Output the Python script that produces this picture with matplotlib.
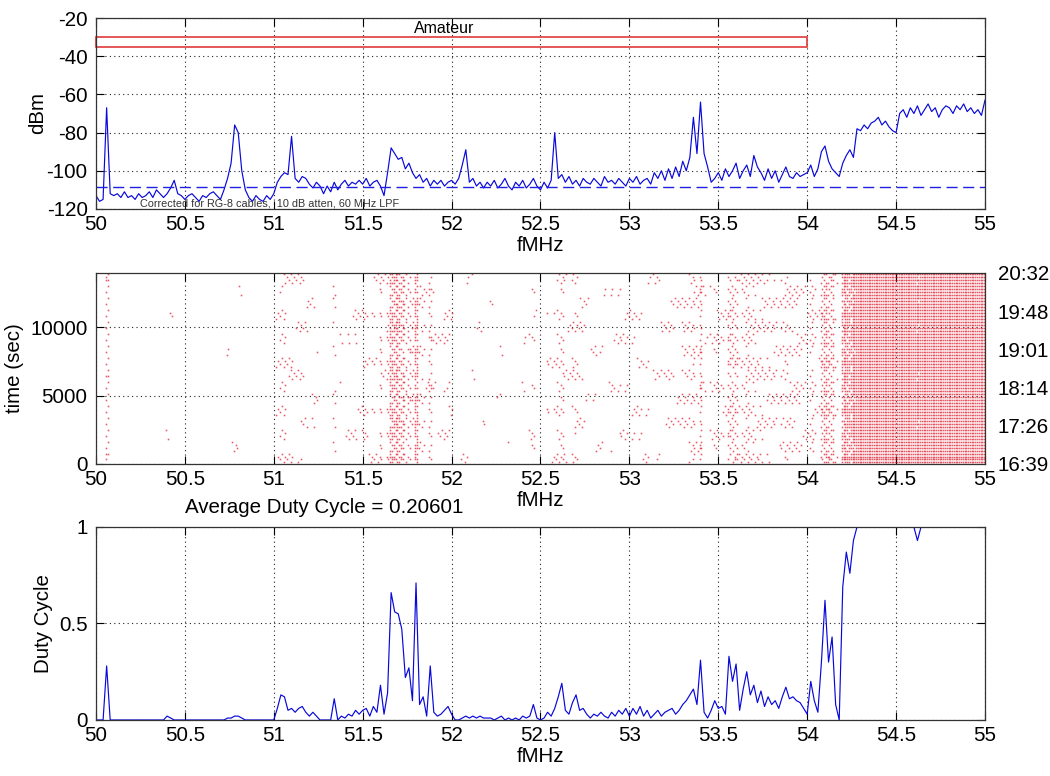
import numpy as np
import matplotlib
matplotlib.use("Agg")
import matplotlib.pyplot as plt
from matplotlib.patches import Rectangle
from matplotlib.ticker import FormatStrFormatter

plt.rcParams['font.family'] = ['Liberation Sans', 'DejaVu Sans']
plt.rcParams['axes.unicode_minus'] = False

# frequency grid, 20 kHz steps from 50 to 55 MHz
F_START, F_STEP = 50.0, 0.02

# peak power per bin (dBm), one row = 0.2 MHz
power_dbm = [
    -113, -116, -115, -67, -112, -113, -112, -114, -111, -114,   # 50.0
    -113, -115, -112, -114, -113, -111, -114, -110, -112, -114,  # 50.2
    -112, -109, -105, -112, -113, -115, -113, -112, -114, -116,  # 50.4
    -113, -114, -112, -111, -113, -115, -110, -104, -96, -76,    # 50.6
    -80, -100, -110, -114, -116, -113, -115, -116, -113, -115,   # 50.8
    -112, -106, -103, -101, -102, -82, -104, -106, -103, -104,   # 51.0
    -107, -109, -106, -108, -112, -108, -111, -106, -110, -107,  # 51.2
    -105, -108, -106, -107, -105, -107, -104, -108, -106, -105,  # 51.4
    -108, -113, -101, -88, -91, -94, -93, -99, -96, -101,        # 51.6
    -104, -102, -106, -104, -108, -105, -107, -105, -108, -106,  # 51.8
    -105, -107, -104, -97, -89, -106, -104, -108, -106, -109,    # 52.0
    -106, -108, -105, -109, -107, -104, -108, -110, -106, -108,  # 52.2
    -105, -109, -107, -104, -108, -110, -106, -109, -105, -80,   # 52.4
    -104, -102, -106, -103, -107, -105, -108, -104, -106, -107,  # 52.6
    -104, -106, -108, -103, -106, -105, -107, -104, -106, -108,  # 52.8
    -104, -106, -103, -107, -105, -104, -107, -101, -104, -100,  # 53.0
    -105, -99, -104, -98, -103, -95, -100, -93, -72, -91,        # 53.2
    -64, -91, -98, -106, -104, -101, -105, -99, -103, -100,      # 53.4
    -96, -104, -100, -97, -103, -92, -98, -101, -105, -99,       # 53.6
    -104, -100, -106, -102, -98, -103, -104, -101, -103, -102,   # 53.8
    -101, -97, -103, -99, -90, -87, -95, -99, -101, -103,        # 54.0
    -96, -92, -89, -93, -78, -79, -76, -78, -75, -74,            # 54.2
    -72, -76, -74, -77, -79, -80, -70, -68, -72, -67,            # 54.4
    -70, -66, -71, -68, -65, -69, -67, -72, -68, -66,            # 54.6
    -67, -70, -66, -68, -65, -69, -67, -70, -68, -71,            # 54.8
    -63,                                                         # 55.0
]

# fraction of sweeps above threshold per bin
duty_cycle = [
    0, 0, 0, 0.28, 0, 0, 0, 0, 0, 0,                             # 50.0
    0, 0, 0, 0, 0, 0, 0, 0, 0, 0,                                # 50.2
    0.02, 0.01, 0, 0, 0, 0, 0, 0, 0, 0,                          # 50.4
    0, 0, 0, 0, 0, 0, 0, 0.01, 0.01, 0.02,                       # 50.6
    0.02, 0.01, 0, 0, 0, 0, 0, 0, 0, 0,                          # 50.8
    0, 0.06, 0.13, 0.12, 0.05, 0.06, 0.04, 0.06, 0.07, 0.04,     # 51.0
    0.02, 0.04, 0.02, 0, 0, 0, 0, 0.11, 0, 0.02,                 # 51.2
    0.01, 0.03, 0.02, 0.05, 0.03, 0.05, 0.06, 0.02, 0.07, 0.04,  # 51.4
    0.18, 0.03, 0.14, 0.66, 0.56, 0.55, 0.47, 0.22, 0.27, 0.10,  # 51.6
    0.71, 0.08, 0.12, 0.02, 0.28, 0.04, 0.02, 0.03, 0.05, 0.07,  # 51.8
    0.03, 0, 0, 0.01, 0.02, 0.01, 0.02, 0.01, 0.02, 0.01,        # 52.0
    0.01, 0.01, 0, 0.01, 0.02, 0, 0.01, 0, 0.01, 0,              # 52.2
    0.02, 0.01, 0.02, 0.08, 0.01, 0, 0.01, 0.04, 0.02, 0.06,     # 52.4
    0.12, 0.19, 0.05, 0.03, 0.09, 0.13, 0.05, 0.06, 0.03, 0.01,  # 52.6
    0.03, 0.02, 0.04, 0.02, 0.01, 0.04, 0.02, 0.05, 0.03, 0.06,  # 52.8
    0.02, 0.06, 0.03, 0.07, 0.02, 0.05, 0.01, 0.03, 0.05, 0.02,  # 53.0
    0.04, 0.05, 0.06, 0.03, 0.05, 0.08, 0.10, 0.13, 0.16, 0.08,  # 53.2
    0.31, 0.04, 0.01, 0.05, 0.10, 0.06, 0.07, 0.03, 0.33, 0.20,  # 53.4
    0.29, 0.05, 0.16, 0.25, 0.13, 0.18, 0.09, 0.15, 0.07, 0.12,  # 53.6
    0.08, 0.10, 0.06, 0.12, 0.17, 0.11, 0.12, 0.10, 0.09, 0.06,  # 53.8
    0.03, 0.20, 0.10, 0.04, 0.30, 0.62, 0.30, 0.43, 0.08, 0,     # 54.0
    0.69, 0.87, 0.76, 0.93, 1, 1, 1, 1, 1, 1,                   # 54.2
    1, 1, 1, 1, 1, 1, 1, 1, 1, 1,                                # 54.4
    1, 0.93, 1, 1, 1, 1, 1, 1, 1, 1,                             # 54.6
    1, 1, 1, 1, 1, 1, 1, 1, 1, 1,                                # 54.8
    1,                                                           # 55.0
]

noise_floor = -108.5
amateur_band = (50.0, 54.0, -35.0, -30.0)   # f_lo, f_hi, y_lo, y_hi

sweep_seconds = 13980
n_sweeps = 64
clock_labels = ['16:39', '17:26', '18:14', '19:01', '19:48', '20:32']
avg_duty_text = 'Average Duty Cycle = 0.20601'

freq = F_START + F_STEP * np.arange(len(power_dbm))
duty = np.array(duty_cycle)
assert len(power_dbm) == len(duty_cycle) == 251

fig = plt.figure(figsize=(10.5, 7.76), dpi=100)
ax1 = fig.add_axes([0.0914, 0.7307, 0.8467, 0.2461])
ax2 = fig.add_axes([0.0914, 0.4021, 0.8467, 0.2461])
ax3 = fig.add_axes([0.0914, 0.0722, 0.8467, 0.2487])

FS = 14.8
GRID = dict(linestyle=(0, (1, 3)), color='#222222', linewidth=0.8)
LINE_BLUE = '#0808dc'


def style_axes(ax):
    ax.set_xlim(50, 55)
    ax.set_xticks(np.arange(50, 55.01, 0.5))
    ax.xaxis.set_major_formatter(FormatStrFormatter('%g'))
    ax.tick_params(direction='in', length=6, width=0.8, top=True, right=True,
                   labelsize=FS, pad=4)
    ax.tick_params(axis='y', pad=6)
    for s in ax.spines.values():
        s.set_linewidth(0.9)
        s.set_color('#333333')
    ax.grid(True, **GRID)
    ax.set_axisbelow(True)
    ax.set_xlabel('fMHz', fontsize=FS, labelpad=2)


# --- spectrum ---
style_axes(ax1)
ax1.set_ylim(-120, -20)
ax1.set_yticks(np.arange(-120, -19, 20))
ax1.plot(freq, power_dbm, color=LINE_BLUE, linewidth=0.85)
ax1.axhline(noise_floor, color='#2020e0', linestyle=(0, (8, 4)), linewidth=1.0)
f_lo, f_hi, y_lo, y_hi = amateur_band
ax1.add_patch(Rectangle((f_lo, y_lo), f_hi - f_lo, y_hi - y_lo,
                        fill=False, edgecolor='#e03a3a', linewidth=1.2, clip_on=False))
ax1.text((f_lo + f_hi) / 2 - 0.04, y_hi + 0.5, 'Amateur', fontsize=11.5,
         ha='center', va='bottom')
ax1.text(50.25, -119.5, 'Corrected for RG-8 cables,  10 dB atten, 60 MHz LPF',
         fontsize=7.8, color='#333333', ha='left', va='bottom')
ax1.set_ylabel('dBm', fontsize=FS)
ax1.yaxis.set_label_coords(-0.055, 0.5)

# --- occupancy raster: each sweep row lit where the bin was above threshold ---
style_axes(ax2)
ax2.set_ylim(0, sweep_seconds)
ax2.set_yticks([0, 5000, 10000])
row_t = (np.arange(n_sweeps) + 0.5) * sweep_seconds / n_sweeps
# bit-reversed row order spreads the lit sweeps over the whole run
bits = int(np.log2(n_sweeps))
row_rank = np.array([int(format(r, f'0{bits}b')[::-1], 2) for r in range(n_sweeps)]) / n_sweeps
px, py = [], []
for c, (f0, d) in enumerate(zip(freq, duty)):
    if d <= 0:
        continue
    for sub in range(2):
        col = 2 * c + sub
        phase = (row_rank + col * 0.7548776662) % 1.0
        on = phase < d
        px.extend([f0 + 0.01 * sub - 0.005] * int(on.sum()))
        py.extend(row_t[on])
ax2.plot(px, py, linestyle='none', marker='s', markersize=1.15,
         markeredgewidth=0, color='#e23040', alpha=0.8)
ax2.set_ylabel('time (sec)', fontsize=FS)
ax2.yaxis.set_label_coords(-0.081, 0.5)
ax2.text(0.1, -0.23, avg_duty_text, transform=ax2.transAxes, fontsize=FS,
         ha='left', va='center')

ax2r = ax2.twinx()
ax2r.set_ylim(0, 1)
ax2r.set_yticks(np.linspace(0, 1, len(clock_labels)))
ax2r.set_yticklabels(clock_labels)
ax2r.tick_params(length=0, labelsize=FS, pad=9)
for s in ax2r.spines.values():
    s.set_visible(False)

# --- duty cycle ---
style_axes(ax3)
ax3.set_ylim(0, 1)
ax3.set_yticks([0, 0.5, 1])
ax3.yaxis.set_major_formatter(FormatStrFormatter('%g'))
ax3.plot(freq, duty, color=LINE_BLUE, linewidth=0.85)
ax3.set_ylabel('Duty Cycle', fontsize=FS)
ax3.yaxis.set_label_coords(-0.048, 0.5)

fig.savefig('out.png', dpi=100)
